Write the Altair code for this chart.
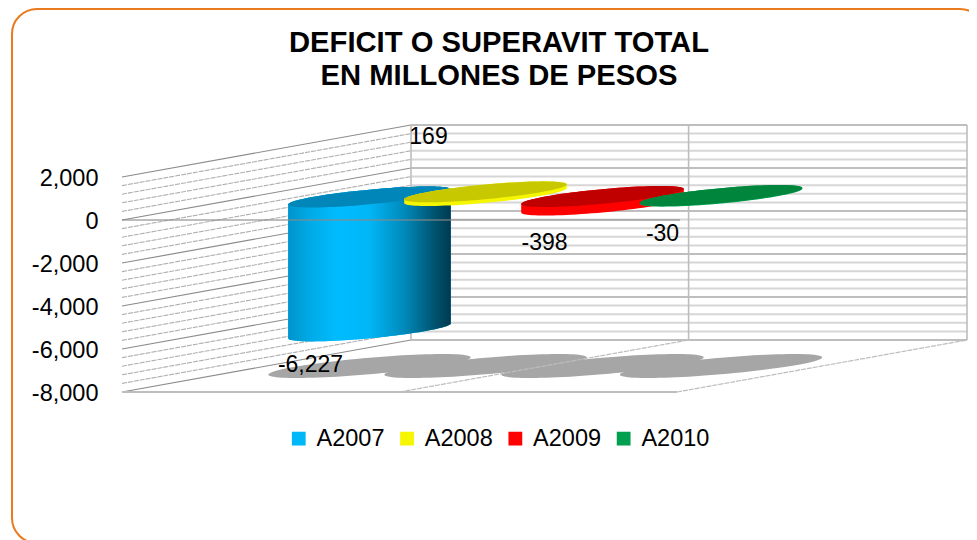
import math
import altair as alt
import pandas as pd

# ---- chart values ----
SERIES = ["A2007", "A2008", "A2009", "A2010"]
VALUES = [-6227, 169, -398, -30]
TICKS = [2000, 0, -2000, -4000, -6000, -8000]
TITLE_LINES = ["DEFICIT O SUPERAVIT TOTAL", "EN MILLONES DE PESOS"]

# ---- colours and styles ----
BODY = ["#00b8f8", "#f6f600", "#ff0000", "#00a050"]
TOP = ["#0086b8", "#c8c800", "#c00000", "#00853c"]
BLUE_STOPS = [(0, "#0094cc"), (0.12, "#00a8e4"), (0.3, "#00bcff"), (0.5, "#00b6f6"),
              (0.72, "#0088b8"), (0.9, "#00536f"), (1, "#003a50")]
FONT = "Liberation Sans"
ORANGE = "#e97a1e"

# ---- oblique-projection layout (screen pixels of the page) ----
W, H = 961, 532
K = 0.0215                  # pixels per value unit
Y0 = 220                    # page y of value 0 on the front plane
FRONT_L, FRONT_R = 122, 677
DX, DY = 289, 52            # depth shift of the back wall
BACK_MID = 688.6
CENTERS = [369.5, 485.5, 602.5, 721]
BASE_Y = [197, 195.5, 196.5, 195.5]
ELL = (57, 58, 10.5)        # Ux, Vx, Vy of the cylinder circle
SHADOW = (70, 73, 12)
SHADOW_Y = 366
LABEL_DX = [-59, -57, -58, -58.5]
LABEL_DY = [11.5, -79, 14.5, 13.5]


def v_of(py):
    """value whose front-plane position is page y py"""
    return (Y0 - py) / K


axis = alt.Axis(values=TICKS, title=None, domain=False, ticks=False, grid=False, offset=-90,
                labelPadding=0, labelFont=FONT, labelFontSize=23.5, labelColor="#000000",
                labelOffset=1, labelExpr="replace(datum.label, '\u2212', '-')", labelOverlap=False)
xs = alt.Scale(domain=[8, 8 + W], range=[0, W])
ys = alt.Scale(domain=[v_of(8 + H), v_of(8)], range=[H, 0], nice=False, zero=False)
X = lambda f: alt.X(f, type="quantitative", scale=xs, axis=None)
Yn = lambda f: alt.Y(f, type="quantitative", scale=ys, axis=axis)


def ellipse(cx, cy_val, ell, n=48):
    """upper and lower boundary of an oblique circle"""
    ux, vx, vy = ell
    a = math.hypot(ux, vx)
    phi = math.atan2(vx, ux)
    out = []
    for i in range(n + 1):
        s = math.pi * (1 - i / n)
        out.append({
            "x": cx + a * math.cos(s),
            "up": cy_val + vy * math.sin(phi + s) / K,
            "lo": cy_val + vy * math.sin(phi - s) / K,
        })
    return out


# ---- walls ----
grid_vals = list(range(-8000, 2001, 400))
rows = []
for v in grid_vals:
    major = v % 2000 == 0
    rows.append(dict(x=FRONT_L, x2=FRONT_L + DX, y=v, y2=v + DY / K, major=major, wall="side"))
    rows.append(dict(x=FRONT_L + DX, x2=FRONT_R + DX + 1, y=v + DY / K, y2=v + DY / K, major=major, wall="back"))
grid = pd.DataFrame(rows)


def rules(df, color, width, opacity=1.0, dash=None):
    kw = dict(color=color, strokeWidth=width, opacity=opacity)
    if dash:
        kw["strokeDash"] = dash
    return alt.Chart(df).mark_rule(**kw).encode(
        x=X("x"), x2=alt.X2("x2"), y=Yn("y"), y2=alt.Y2("y2"))


back = FRONT_L + DX
bm = -8000 + DY / K
tp = 2000 + DY / K
layers = [
    rules(grid[(grid.wall == "back") & ~grid.major], "#d6d6d6", 2),
    rules(grid[(grid.wall == "back") & grid.major], "#a8a8a8", 1.4),
    rules(grid[(grid.wall == "side") & ~grid.major], "#b0b0b0", 1.1, dash=[5, 1]),
    rules(grid[(grid.wall == "side") & grid.major], "#8c8c8c", 1.2),
    rules(pd.DataFrame([dict(x=back, x2=back, y=bm, y2=tp),
                        dict(x=BACK_MID, x2=BACK_MID, y=bm, y2=tp),
                        dict(x=FRONT_R + DX + 1, x2=FRONT_R + DX + 1, y=bm, y2=tp)]), "#bdbdbd", 1.6),
    rules(pd.DataFrame([dict(x=FRONT_R, x2=FRONT_R + DX + 1, y=-8000, y2=bm)]), "#bdbdbd", 1.2, dash=[5, 1]),
]

# ---- floor shadows ----
for cx in CENTERS:
    df = pd.DataFrame(ellipse(cx, v_of(SHADOW_Y), SHADOW))
    layers.append(alt.Chart(df).mark_area(color="#a6a6a6").encode(x=X("x"), y=Yn("lo"), y2=alt.Y2("up")))
layers.append(rules(pd.DataFrame([dict(x=BACK_MID - DX, x2=BACK_MID, y=-8000, y2=bm)]), "#bdbdbd", 1.2, dash=[5, 1]))
layers.append(rules(pd.DataFrame([dict(x=FRONT_L, x2=FRONT_R, y=-8000, y2=-8000)]), "#bdbdbd", 2.2))

# ---- cylinders ----
color = alt.Color(
    "s:N",
    scale=alt.Scale(domain=SERIES, range=BODY),
    legend=alt.Legend(orient="none", legendX=279, legendY=418.5, direction="horizontal", columns=4,
                      title=None, symbolType="square", symbolSize=190, symbolStrokeWidth=0,
                      labelFont=FONT, labelFontSize=23.5, labelColor="#000000", labelOffset=6,
                      columnPadding=10.3, padding=0, symbolOpacity=1),
)
for i, (s, val) in enumerate(zip(SERIES, VALUES)):
    base = v_of(BASE_Y[i])
    top_v = base + max(val, 0)
    bot_v = base + min(val, 0)
    top = ellipse(CENTERS[i], top_v, ELL)
    bot = ellipse(CENTERS[i], bot_v, ELL)
    body = pd.DataFrame({"x": [p["x"] for p in top], "up": [p["up"] for p in top],
                         "lo": [p["lo"] for p in bot], "s": s})
    layers.append(alt.Chart(body).mark_area().encode(x=X("x"), y=Yn("lo"), y2=alt.Y2("up"), color=color))
    if i == 0:
        grad = alt.Gradient(gradient="linear", x1=0, x2=1, y1=0, y2=0,
                            stops=[alt.GradientStop(offset=o, color=c) for o, c in BLUE_STOPS])
        layers.append(alt.Chart(body).mark_area(fill=grad).encode(x=X("x"), y=Yn("lo"), y2=alt.Y2("up")))
    layers.append(alt.Chart(pd.DataFrame(top)).mark_area(color=TOP[i]).encode(x=X("x"), y=Yn("lo"), y2=alt.Y2("up")))

# ---- zero line in front of the cylinders ----
layers.append(rules(pd.DataFrame([dict(x=FRONT_L, x2=FRONT_R + 3, y=0, y2=0)]), "#8a8a8a", 1.3, opacity=0.75))

# ---- data labels ----
labels = pd.DataFrame({
    "t": [f"{v:,}" for v in VALUES],
    "x": [c + d for c, d in zip(CENTERS, LABEL_DX)],
    "y": [v - d / K for v, d in zip(VALUES, LABEL_DY)],
})
layers.append(alt.Chart(labels).mark_text(font=FONT, fontSize=23, color="#000000", align="center",
                                          baseline="middle").encode(x=X("x"), y=Yn("y"), text="t:N"))

# ---- title ----
for line, py in zip(TITLE_LINES, [44, 77]):
    layers.append(alt.Chart(pd.DataFrame({"t": [line]})).mark_text(
        font=FONT, fontSize=29.2, fontWeight="bold", color="#000000", align="center", baseline="alphabetic"
    ).encode(x=alt.value(491), y=alt.value(py), text="t:N"))

# ---- rounded orange frame ----
layers.append(alt.Chart(pd.DataFrame({"a": [0]})).mark_rect(
    fill="transparent", stroke=ORANGE, strokeWidth=2, cornerRadius=25
).encode(x=alt.value(4), x2=alt.value(977), y=alt.value(1), y2=alt.value(535)))

chart = alt.layer(*layers).resolve_scale(color="shared").properties(
    width=W, height=H, padding=0, autosize=alt.AutoSizeParams(type="none"),
    background="#ffffff",
).configure_view(stroke=None)

chart.save("out.html", embed_options={"renderer": "svg", "actions": False})
